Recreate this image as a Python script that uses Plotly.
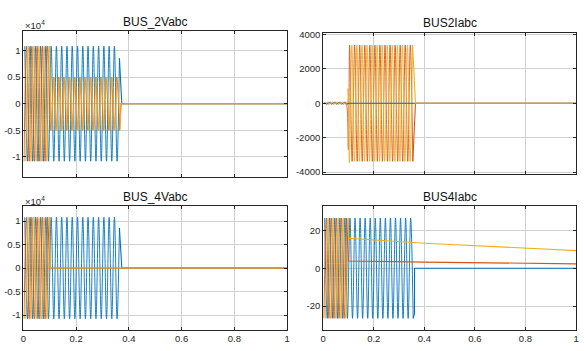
import math
import plotly.graph_objects as go

# ---------------- data ----------------
PERIOD = 0.02  # 50 Hz waveforms

# each trace = list of pieces:
#   ("osc", t_start, t_end, amplitude, time_of_a_positive_peak)  -> peaks/troughs of the wave
#   ("pts", [(t, value), ...])                                    -> explicit points inside the wave part
#   ("tail", [(t, value), ...])                                   -> explicit points of the straight part after it
bus2v_a = [("osc", 0.0, 0.356, 10800, 0.005), ("pts", [(0.364, 8500)]), ("tail", [(0.373, 0), (1.0, 0)])]
bus2v_b = [("osc", 0.0, 0.1, 10800, 0.0117), ("osc", 0.1, 0.367, 5000, 0.0142), ("tail", [(0.370, 0), (1.0, 0)])]
bus2v_c = [("osc", 0.0, 0.1, 10800, 0.0183), ("osc", 0.1, 0.367, 5000, 0.0158), ("tail", [(0.370, 0), (1.0, 0)])]

bus2i_a = [("osc", 0.0, 0.1, 60, 0.0030), ("tail", [(0.1, 0), (1.0, 0)])]
bus2i_b = [("osc", 0.0, 0.098, 60, 0.0097), ("pts", [(0.0995, -2700)]), ("osc", 0.103, 0.362, 3380, 0.0045),
           ("tail", [(0.365, 0), (1.0, 0)])]
bus2i_c = [("osc", 0.0, 0.097, 60, 0.0163), ("pts", [(0.098, 850), (0.1035, -3450)]), ("osc", 0.106, 0.362, 3380, 0.0135),
           ("tail", [(0.365, 0), (1.0, 0)])]

bus4v_a = [("osc", 0.0, 0.356, 10800, 0.005), ("pts", [(0.364, 8500)]), ("tail", [(0.373, 0), (1.0, 0)])]
bus4v_b = [("osc", 0.0, 0.1, 10800, 0.0117), ("tail", [(0.101, 0), (1.0, 0)])]
bus4v_c = [("osc", 0.0, 0.1, 10800, 0.0183), ("tail", [(0.101, 0), (1.0, 0)])]

bus4i_a = [("osc", 0.0, 0.357, 26.5, 0.006), ("tail", [(0.361, -24), (0.3615, 0), (1.0, 0)])]
bus4i_b = [("osc", 0.0, 0.1, 26.5, 0.0127), ("tail", [(0.1, 3.8), (0.4, 3.2), (0.7, 2.7), (1.0, 2.3)])]
bus4i_c = [("osc", 0.0, 0.1, 26.5, 0.0193), ("tail", [(0.1, 15.8), (0.4, 13.2), (0.7, 11.2), (1.0, 9.3)])]

titles = ["BUS_2Vabc", "BUS2Iabc", "BUS_4Vabc", "BUS4Iabc"]
x_ticks = [0, 0.2, 0.4, 0.6, 0.8, 1]
x_ticklabels = ["0", "0.2", "0.4", "0.6", "0.8", "1"]
v_ticks = [-10000, -5000, 0, 5000, 10000]
v_ticklabels = ["-1", "-0.5", "0", "0.5", "1"]
i2_ticks = [-4000, -2000, 0, 2000, 4000]
i2_ticklabels = ["-4000", "-2000", "0", "2000", "4000"]
i4_ticks = [-20, 0, 20]
i4_ticklabels = ["-20", "0", "20"]

COLORS = ["#0072BD", "#D95319", "#EDB120"]


def build(pieces):
    wx, wy, lx, ly = [], [], [], []
    half = PERIOD / 2
    for p in pieces:
        if p[0] == "osc":
            _, t0, t1, amp, tp = p
            k0 = math.ceil((t0 - tp) / half - 1e-9)
            k1 = math.floor((t1 - tp) / half + 1e-9)
            for k in range(k0, k1 + 1):
                wx.append(tp + k * half)
                wy.append(amp if k % 2 == 0 else -amp)
        elif p[0] == "pts":
            for t, v in p[1]:
                wx.append(t)
                wy.append(v)
        else:
            lx.append(wx[-1])
            ly.append(wy[-1])
            for t, v in p[1]:
                lx.append(t)
                ly.append(v)
    return wx, wy, lx, ly


W, H = 584, 351
fig = go.Figure()

# axes boxes in pixels: (left, right, top, bottom)
boxes = [(20.7, 287, 27.3, 176.7), (323.5, 579, 29.3, 173.7),
         (20.7, 287, 206.7, 333.7), (323.5, 579, 207.0, 333.7)]
title_y = [18.5, 19.5, 197.5, 197.5]
yranges = [[-13700, 13700], [-4100, 4100], [-13200, 13200], [-32.7, 32.7]]
yticks = [(v_ticks, v_ticklabels), (i2_ticks, i2_ticklabels), (v_ticks, v_ticklabels), (i4_ticks, i4_ticklabels)]
series = [[bus2v_a, bus2v_b, bus2v_c], [bus2i_a, bus2i_b, bus2i_c],
          [bus4v_a, bus4v_b, bus4v_c], [bus4i_a, bus4i_b, bus4i_c]]

FONT = "Liberation Sans, Arial, sans-serif"
AXC = "#262626"
GRID = "#d0d0d0"

layout = dict(width=W, height=H, margin=dict(l=0, r=0, t=0, b=0),
              paper_bgcolor="white", plot_bgcolor="white", showlegend=False,
              font=dict(family=FONT, size=10, color=AXC))
annotations = []
for i in range(4):
    l, r, t, b = boxes[i]
    xd = [l / W, r / W]
    yd = [1 - b / H, 1 - t / H]
    sx = "" if i == 0 else str(i + 1)
    built = [build(p) for p in series[i]]
    for j, (wx, wy, lx, ly) in enumerate(built):
        fig.add_trace(go.Scatter(x=wx, y=wy, mode="lines",
                                 line=dict(color=COLORS[j], width=0.9, shape="spline", smoothing=1.0),
                                 xaxis="x" + sx, yaxis="y" + sx, hoverinfo="skip"))
    for j, (wx, wy, lx, ly) in enumerate(built):
        fig.add_trace(go.Scatter(x=lx, y=ly, mode="lines", line=dict(color=COLORS[j], width=1.1),
                                 xaxis="x" + sx, yaxis="y" + sx, hoverinfo="skip"))
    common = dict(showline=True, linecolor=AXC, linewidth=1, mirror="ticks", ticks="inside",
                  ticklen=3, tickcolor=AXC, showgrid=True, gridcolor=GRID, gridwidth=1,
                  zeroline=False, tickfont=dict(family=FONT, size=9.5, color=AXC))
    layout["xaxis" + sx] = dict(domain=xd, range=[0, 1], tickvals=x_ticks, ticktext=x_ticklabels,
                                showticklabels=(i >= 2), anchor="y" + sx, **common)
    layout["yaxis" + sx] = dict(domain=yd, range=yranges[i], tickvals=yticks[i][0], ticktext=yticks[i][1],
                                anchor="x" + sx, **common)
    annotations.append(dict(text=titles[i], x=(l + r) / 2 / W, y=1 - title_y[i] / H, xref="paper", yref="paper",
                            xanchor="center", yanchor="middle", showarrow=False,
                            font=dict(family=FONT, size=12, color="#111111")))
    if i in (0, 2):
        annotations.append(dict(text="×10<sup>4</sup>", x=l / W, y=1 - (t - 5.5) / H, xref="paper", yref="paper",
                                xanchor="left", yanchor="middle", showarrow=False,
                                font=dict(family=FONT, size=9.5, color=AXC)))
layout["annotations"] = annotations
fig.update_layout(**layout)
fig.write_html("out.html", config={"displayModeBar": False},
               post_script="document.body.style.margin='0';document.body.style.overflow='hidden';")
